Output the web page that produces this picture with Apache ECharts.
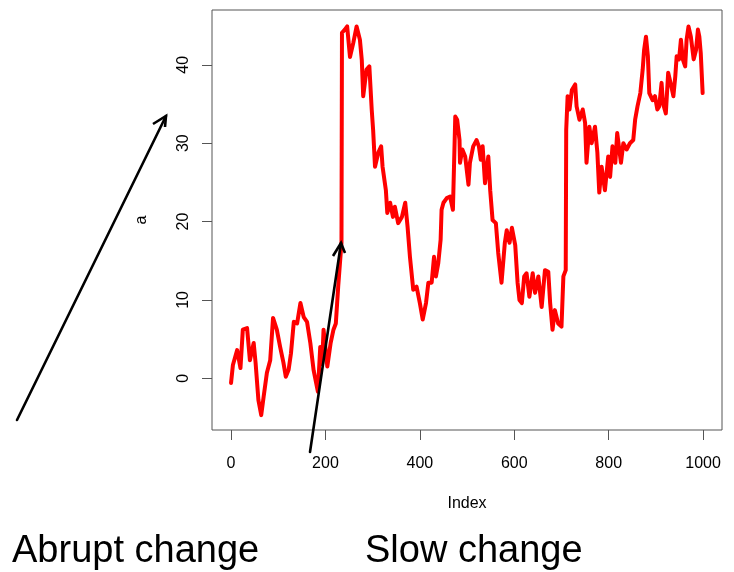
<!DOCTYPE html>
<html lang="en">
<head>
    <meta charset="UTF-8">
    <title>Abrupt vs slow change</title>
    <script src="https://cdn.jsdelivr.net/npm/echarts@6/dist/echarts.min.js"></script>
    <style>
        html, body { margin: 0; padding: 0; background: #fff; }
        #paint { width: 734px; height: 572px; }
    </style>
</head>
<body>
<div id="paint"></div>
<script type="text/javascript">
    // series (index, value)
    var idx = [0, 4, 13, 20, 25, 34, 40, 48, 52, 58, 64, 69, 76, 83, 89, 97, 104, 111, 116, 122,
        127, 133, 140, 147, 154, 161, 168, 175, 184, 189, 193, 196, 204, 211, 217, 222, 227, 234,
        235, 241, 246, 252, 259, 266, 273, 277, 280, 287, 293, 298, 301, 305, 312, 318, 321, 328,
        331, 337, 343, 347, 354, 362, 369, 374, 379, 386, 393, 400, 406, 413, 418, 425, 430, 434,
        439, 444, 446, 450, 457, 464, 470, 473, 475, 479, 484, 485, 490, 496, 503, 506, 513, 520,
        525, 529, 533, 538, 545, 549, 554, 561, 566, 573, 580, 584, 590, 595, 602, 607, 611, 616,
        621, 626, 632, 639, 644, 651, 658, 665, 672, 676, 681, 686, 693, 700, 704, 709, 710, 713,
        717, 722, 729, 732, 738, 745, 750, 753, 759, 764, 771, 776, 780, 785, 792, 799, 803, 808,
        814, 818, 826, 831, 838, 845, 852, 856, 861, 867, 872, 875, 879, 883, 886, 893, 898, 903,
        907, 912, 915, 921, 926, 931, 937, 941, 944, 949, 953, 957, 962, 965, 969, 974, 980, 985,
        989, 992, 995, 999];
    var a = [-0.6, 1.7, 3.6, 1.3, 6.2, 6.4, 2.3, 4.5, 2.0, -2.8, -4.7, -2.4, 0.7, 2.3, 7.7, 6.2, 4.0, 2.0, 0.2, 1.1,
        3.2, 7.2, 7.0, 9.6, 7.8, 7.2, 4.5, 1.0, -1.7, 4.0, 1.8, 6.2, 1.5, 4.5, 6.2, 7.0, 11.7, 17.3,
        44.1, 44.5, 44.9, 41.0, 42.8, 44.9, 43.2, 40.6, 36.0, 39.4, 39.8, 34.3, 31.7, 27.0, 28.8, 29.6, 27.0, 24.0,
        21.1, 22.4, 20.6, 21.9, 19.8, 20.6, 22.4, 19.3, 15.5, 11.3, 11.7, 9.6, 7.5, 9.6, 12.2, 12.2, 15.5, 13.0,
        14.7, 17.7, 21.5, 22.4, 23.0, 23.2, 21.5, 21.5, 33.4, 33.0, 30.4, 27.5, 29.2, 28.3, 24.7, 27.5, 29.6, 30.4,
        29.6, 27.9, 29.6, 24.9, 28.3, 24.0, 20.2, 19.8, 16.0, 12.2, 17.3, 18.9, 17.3, 19.2, 17.0, 12.2, 10.0, 9.6,
        13.0, 13.4, 10.4, 13.4, 10.9, 13.0, 9.1, 13.8, 13.6, 9.6, 6.2, 8.7, 7.0, 6.6, 13.0, 13.8, 31.7, 36.0,
        34.3, 36.8, 37.5, 34.7, 33.0, 34.3, 32.6, 27.5, 32.1, 30.0, 32.1, 28.8, 23.7, 27.0, 24.0, 28.3, 25.7, 29.6,
        27.5, 31.3, 27.5, 30.0, 29.2, 30.0, 30.4, 33.0, 34.7, 36.4, 39.4, 41.9, 43.6, 41.1, 36.4, 35.5, 36.0, 34.3,
        34.7, 37.7, 35.1, 33.8, 39.0, 37.7, 36.0, 38.5, 41.1, 40.7, 43.2, 40.7, 39.8, 43.2, 44.9, 43.6, 40.7, 41.9,
        44.5, 43.6, 41.5, 36.4];
    var xTicks = [0, 200, 400, 600, 800, 1000];
    var yTicks = [0, 10, 20, 30, 40];

    var font = "'Liberation Sans', Arial, sans-serif";
    var myChart = echarts.init(document.getElementById('paint'));

    var pts = [];
    for (var i = 0; i < idx.length; i++) {
        pts.push([idx[i], a[i]]);
    }

    function arrow(from, tip, w1, w2) {
        return [
            { type: 'polyline', shape: { points: [from, tip] },
              style: { stroke: '#000', lineWidth: 2.6, fill: null, lineCap: 'round' }, z: 100 },
            { type: 'polyline', shape: { points: [w1, tip, w2] },
              style: { stroke: '#000', lineWidth: 2.6, fill: null, lineJoin: 'miter' }, z: 100 }
        ];
    }

    var option = {
        animation: false,
        backgroundColor: '#fff',
        textStyle: { fontFamily: font },
        grid: {
            left: 212, top: 10, right: 12, bottom: 142,
            show: true, borderColor: '#555', borderWidth: 1
        },
        xAxis: {
            type: 'value',
            min: -40.3, max: 1040,
            name: 'Index',
            nameLocation: 'middle',
            nameGap: 66,
            nameTextStyle: { fontSize: 16, color: '#000', fontFamily: font },
            axisLine: { show: false, onZero: false },
            splitLine: { show: false },
            axisTick: { show: true, length: 10, customValues: xTicks, lineStyle: { color: '#555' } },
            axisLabel: { customValues: xTicks, fontSize: 16, color: '#000', margin: 26, fontFamily: font,
                formatter: function (v) { return String(v); } }
        },
        yAxis: {
            type: 'value',
            min: -6.6, max: 47,
            name: 'a',
            nameLocation: 'middle',
            nameGap: 62,
            nameRotate: 90,
            nameTextStyle: { fontSize: 16, color: '#000', fontFamily: font },
            axisLine: { show: false, onZero: false },
            splitLine: { show: false },
            axisTick: { show: true, length: 10, customValues: yTicks, lineStyle: { color: '#555' } },
            axisLabel: { customValues: yTicks, rotate: 90, fontSize: 16, color: '#000', margin: 20, fontFamily: font,
                formatter: function (v) { return String(v); } }
        },
        series: [{
            type: 'line',
            data: pts,
            showSymbol: false,
            lineStyle: { color: '#ff0000', width: 4, cap: 'round', join: 'round' }
        }],
        graphic: [].concat(
            arrow([17, 420], [166, 116], [153, 124], [165, 127]),
            arrow([310, 452], [341, 243], [333, 256], [345, 253]),
            [
                { type: 'text', left: 12, top: 533,
                  style: { text: 'Abrupt change', font: '38px ' + font, fill: '#000' } },
                { type: 'text', left: 365, top: 533,
                  style: { text: 'Slow change', font: '38px ' + font, fill: '#000' } }
            ]
        )
    };
    myChart.setOption(option);
</script>
</body>
</html>
